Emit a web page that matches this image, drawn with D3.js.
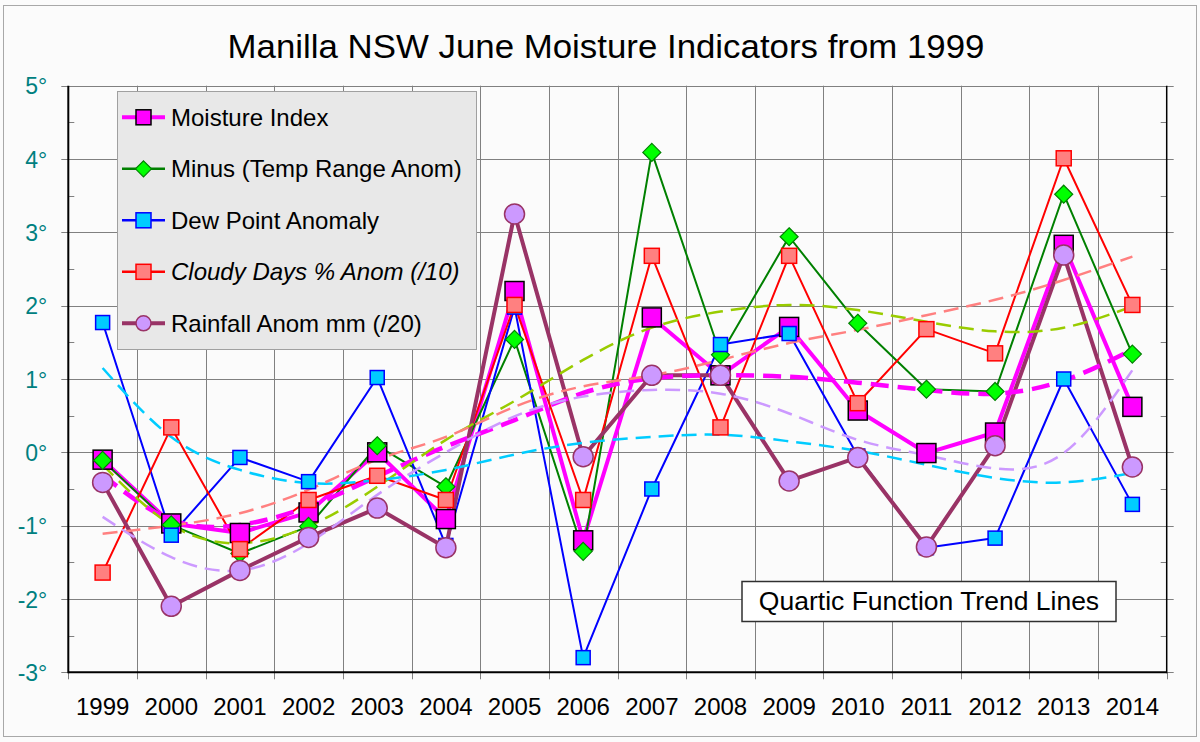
<!DOCTYPE html>
<html>
<head>
<meta charset="utf-8">
<script src="https://cdn.jsdelivr.net/npm/d3@7"></script>
<style>
  body { margin: 0; background: #fbfbfb; }
  text { font-family: Arial, "Liberation Sans", sans-serif; }
</style>
</head>
<body>
<div id="chart"></div>
<script>
// years on the x axis
var years = ["1999", "2000", "2001", "2002", "2003", "2004", "2005", "2006",
             "2007", "2008", "2009", "2010", "2011", "2012", "2013", "2014"];
var yTicks = [-3, -2, -1, 0, 1, 2, 3, 4, 5];

// series values
var moisture = [-0.1, -0.97, -1.1, -0.82, 0.0, -0.91, 2.2, -1.2, 1.84, 1.05, 1.71, 0.57, -0.01, 0.27, 2.83, 0.62];
var minusRange = [-0.11, -0.99, -1.38, -1.01, 0.09, -0.47, 1.54, -1.35, 4.09, 1.33, 2.94, 1.76, 0.86, 0.83, 3.52, 1.34];
var dewPoint = [1.77, -1.13, -0.07, -0.4, 1.02, -1.27, 1.98, -2.8, -0.5, 1.47, 1.62, -0.05, -1.3, -1.17, 1.0, -0.71];
var cloudy = [-1.64, 0.34, -1.32, -0.65, -0.32, -0.65, 2.01, -0.65, 2.68, 0.34, 2.68, 0.67, 1.68, 1.35, 4.01, 2.01];
var rainfall = [-0.41, -2.1, -1.61, -1.16, -0.76, -1.3, 3.25, -0.06, 1.05, 1.05, -0.39, -0.07, -1.29, 0.09, 2.69, -0.2];

// quartic trend lines at each year
var moistureTrend = [-0.31, -0.92, -0.99, -0.74, -0.33, 0.08, 0.44, 0.81, 1.01, 1.05, 1.03, 0.95, 0.85, 0.8, 0.98, 1.4];
var minusTrend = [-0.17, -0.99, -1.24, -1.01, -0.47, 0.17, 0.7, 1.26, 1.7, 1.92, 2.01, 1.94, 1.78, 1.65, 1.7, 1.99];
var dewTrend = [1.15, 0.21, -0.24, -0.42, -0.38, -0.24, -0.03, 0.13, 0.21, 0.24, 0.15, 0.02, -0.17, -0.35, -0.41, -0.28];
var cloudyTrend = [-1.11, -1.0, -0.83, -0.51, -0.1, 0.21, 0.62, 0.9, 1.05, 1.26, 1.49, 1.67, 1.87, 2.08, 2.35, 2.67];
var rainTrend = [-0.88, -1.43, -1.61, -1.24, -0.58, 0.0, 0.49, 0.76, 0.85, 0.8, 0.53, 0.17, -0.04, -0.22, -0.01, 1.12];

(function () {
    var width = 1200;
    var height = 742;
    var plotL = 68.3, plotR = 1166.7, plotT = 85.7, plotB = 672.3;

    var svg = d3.select("#chart")
        .append("svg")
        .attr("width", width)
        .attr("height", height);

    svg.append("rect")
        .attr("x", 3.5).attr("y", 5.5)
        .attr("width", 1193).attr("height", 731)
        .attr("fill", "#fbfbfb")
        .attr("stroke", "#a8a8a8");

    var x = d3.scaleBand()
        .domain(years)
        .range([plotL, plotR])
        .padding(0);

    var y = d3.scaleLinear()
        .domain([-3, 5])
        .range([plotB, plotT]);

    function cx(i) { return x(years[i]) + x.bandwidth() / 2; }
    function snap(v) { return Math.round(v) + 0.5; }

    // title
    svg.append("text")
        .attr("x", 606)
        .attr("y", 58)
        .attr("text-anchor", "middle")
        .attr("textLength", 757)
        .attr("lengthAdjust", "spacingAndGlyphs")
        .style("font-size", "34px")
        .attr("fill", "#000")
        .text("Manilla NSW June Moisture Indicators from 1999");

    // horizontal grid + outward ticks on both sides
    svg.append("g")
        .selectAll("line")
        .data(yTicks)
        .enter()
        .append("line")
        .attr("x1", plotL - 7)
        .attr("x2", plotR + 7)
        .attr("y1", function (d) { return snap(y(d)); })
        .attr("y2", function (d) { return snap(y(d)); })
        .attr("stroke", "#808080")
        .attr("stroke-width", 1);

    // vertical grid at category boundaries
    svg.append("g")
        .selectAll("line")
        .data(years.slice(1))
        .enter()
        .append("line")
        .attr("x1", function (d) { return snap(x(d)); })
        .attr("x2", function (d) { return snap(x(d)); })
        .attr("y1", plotT)
        .attr("y2", plotB)
        .attr("stroke", "#808080")
        .attr("stroke-width", 1);

    // minor ticks on left and right axes
    var minor = d3.range(-2.5, 5, 1);
    svg.append("g")
        .selectAll("line")
        .data(minor)
        .enter()
        .append("line")
        .attr("x1", plotL).attr("x2", plotL + 6)
        .attr("y1", function (d) { return snap(y(d)); })
        .attr("y2", function (d) { return snap(y(d)); })
        .attr("stroke", "#808080");
    svg.append("g")
        .selectAll("line")
        .data(minor)
        .enter()
        .append("line")
        .attr("x1", plotR - 6).attr("x2", plotR)
        .attr("y1", function (d) { return snap(y(d)); })
        .attr("y2", function (d) { return snap(y(d)); })
        .attr("stroke", "#808080");

    // bottom axis labels
    var xAxis = d3.axisBottom(x).tickSize(0).tickPadding(0);
    var gx = svg.append("g")
        .attr("transform", "translate(0," + plotB + ")")
        .call(xAxis);
    gx.select(".domain").remove();
    gx.selectAll("text")
        .attr("y", 43)
        .attr("dy", null)
        .attr("fill", "#000")
        .style("font-size", "24px");

    // ticks below the axis at category edges
    var edges = years.map(function (d) { return x(d); }).concat([plotR]);
    svg.append("g")
        .selectAll("line")
        .data(edges)
        .enter()
        .append("line")
        .attr("x1", function (d) { return snap(d); })
        .attr("x2", function (d) { return snap(d); })
        .attr("y1", plotB)
        .attr("y2", plotB + 7)
        .attr("stroke", "#808080");

    // left axis labels
    var yAxis = d3.axisLeft(y).tickValues(yTicks).tickSize(0).tickPadding(0)
        .tickFormat(function (d) { return d + "\u00b0"; });
    var gy = svg.append("g")
        .attr("transform", "translate(" + plotL + ",0)")
        .call(yAxis);
    gy.select(".domain").remove();
    gy.selectAll("text")
        .attr("x", -21)
        .attr("dy", "0.35em")
        .attr("fill", "#008080")
        .style("font-size", "23px");

    // plot frame
    svg.append("line").attr("x1", plotL).attr("x2", plotL).attr("y1", plotT).attr("y2", plotB + 1)
        .attr("stroke", "#000").attr("stroke-width", 2);
    svg.append("line").attr("x1", plotL).attr("x2", plotR).attr("y1", plotB).attr("y2", plotB)
        .attr("stroke", "#000").attr("stroke-width", 2);
    svg.append("line").attr("x1", plotR).attr("x2", plotR).attr("y1", plotT).attr("y2", plotB + 1)
        .attr("stroke", "#000").attr("stroke-width", 1.5);

    var series = [
        { name: "Moisture Index", values: moisture, trend: moistureTrend, line: "#ff00ff", width: 4,
          marker: "square", size: 19, fill: "#ff00ff", stroke: "#000", trendColor: "#ff00ff", trendWidth: 4.5, dash: "18,9" },
        { name: "Minus (Temp Range Anom)", values: minusRange, trend: minusTrend, line: "#008000", width: 2,
          marker: "diamond", size: 18, fill: "#00ff00", stroke: "#008000", trendColor: "#99cc00", trendWidth: 2.5, dash: "15,8" },
        { name: "Dew Point Anomaly", values: dewPoint, trend: dewTrend, line: "#0000ff", width: 2,
          marker: "square", size: 14, fill: "#00ccff", stroke: "#0000ff", trendColor: "#00ccff", trendWidth: 2.5, dash: "15,8" },
        { name: "Cloudy Days % Anom (/10)", values: cloudy, trend: cloudyTrend, line: "#ff0000", width: 2,
          marker: "square", size: 15, fill: "#ff8080", stroke: "#ff0000", trendColor: "#ff8080", trendWidth: 2.5, dash: "15,8", italic: true },
        { name: "Rainfall Anom mm (/20)", values: rainfall, trend: rainTrend, line: "#993366", width: 4,
          marker: "circle", size: 20, fill: "#cc99ff", stroke: "#993366", trendColor: "#cc99ff", trendWidth: 2.5, dash: "15,8" }
    ];

    var line = d3.line()
        .x(function (d, i) { return cx(i); })
        .y(function (d) { return y(d); });

    var trendLine = d3.line()
        .x(function (d, i) { return cx(i); })
        .y(function (d) { return y(d); })
        .curve(d3.curveNatural);

    function drawMarker(g, s, px, py) {
        var h = s.size / 2;
        if (s.marker === "square") {
            g.append("rect")
                .attr("x", px - h).attr("y", py - h)
                .attr("width", s.size).attr("height", s.size)
                .attr("fill", s.fill).attr("stroke", s.stroke).attr("stroke-width", 1.5);
        } else if (s.marker === "diamond") {
            g.append("path")
                .attr("d", "M" + px + "," + (py - h) + "L" + (px + h) + "," + py + "L" + px + "," + (py + h) + "L" + (px - h) + "," + py + "Z")
                .attr("fill", s.fill).attr("stroke", s.stroke).attr("stroke-width", 1.2);
        } else {
            g.append("circle")
                .attr("cx", px).attr("cy", py).attr("r", h)
                .attr("fill", s.fill).attr("stroke", s.stroke).attr("stroke-width", 1.5);
        }
    }

    // data lines
    series.forEach(function (s) {
        svg.append("path")
            .datum(s.values)
            .attr("d", line)
            .attr("fill", "none")
            .attr("stroke", s.line)
            .attr("stroke-width", s.width)
            .attr("stroke-linejoin", "round");
    });

    // trend lines
    series.forEach(function (s) {
        svg.append("path")
            .datum(s.trend)
            .attr("d", trendLine)
            .attr("fill", "none")
            .attr("stroke", s.trendColor)
            .attr("stroke-width", s.trendWidth)
            .attr("stroke-dasharray", s.dash);
    });

    // markers
    series.forEach(function (s) {
        var g = svg.append("g");
        s.values.forEach(function (v, i) {
            drawMarker(g, s, cx(i), y(v));
        });
    });

    // legend
    var legend = svg.append("g");
    legend.append("rect")
        .attr("x", 117.5).attr("y", 91.5)
        .attr("width", 359).attr("height", 258)
        .attr("fill", "#e8e8e8")
        .attr("stroke", "#a0a0a0");

    series.forEach(function (s, i) {
        var ly = 117.3 + i * 51.5;
        var g = legend.append("g");
        g.append("line")
            .attr("x1", 122).attr("x2", 165)
            .attr("y1", ly).attr("y2", ly)
            .attr("stroke", s.line)
            .attr("stroke-width", s.width === 4 ? 4 : 2.5);
        drawMarker(g, { marker: s.marker, size: s.marker === "diamond" ? 16 : 15, fill: s.fill, stroke: s.stroke }, 143.5, ly);
        g.append("text")
            .attr("x", 171)
            .attr("y", ly + 8.5)
            .style("font-size", "24px")
            .style("font-style", s.italic ? "italic" : "normal")
            .attr("fill", "#000")
            .text(s.name);
    });

    // note box
    svg.append("rect")
        .attr("x", 742).attr("y", 581.5)
        .attr("width", 374).attr("height", 40)
        .attr("fill", "#fff")
        .attr("stroke", "#303030")
        .attr("stroke-width", 1.5);
    svg.append("text")
        .attr("x", 929)
        .attr("y", 610)
        .attr("text-anchor", "middle")
        .style("font-size", "26.5px")
        .attr("fill", "#000")
        .text("Quartic Function Trend Lines");
})();
</script>
</body>
</html>
